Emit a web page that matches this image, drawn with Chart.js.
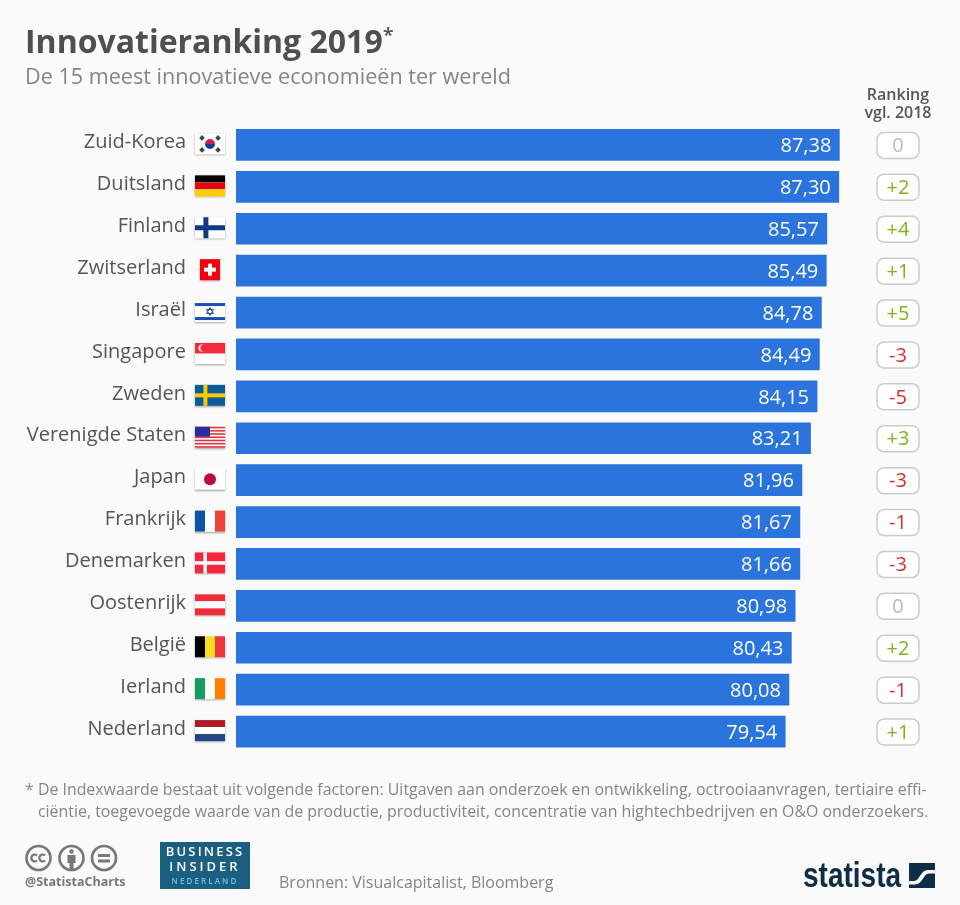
<!DOCTYPE html>
<html>
<head>
<meta charset="utf-8">
<script src="https://cdn.jsdelivr.net/npm/chart.js@4"></script>
<style>
  html, body { margin: 0; padding: 0; background: #fafafa; }
  body { width: 960px; height: 905px; position: relative; overflow: hidden; font-family: "Open Sans", sans-serif; }
  #chart { position: absolute; left: 0; top: 0; }
  .txt { position: absolute; white-space: nowrap; }
  #title { left: 25px; top: 18px; font-size: 32px; line-height: 45px; font-weight: 700; color: #4f4f4f; }
  #title sup { font-size: 20px; font-weight: 600; line-height: 0; vertical-align: 11px; }
  #subtitle { left: 25px; top: 61px; font-size: 21.6px; line-height: 30px; color: #858585; }
  #rankhead { left: 848px; width: 100px; top: 85px; text-align: center; font-size: 16px; line-height: 18px; font-weight: 600; color: #555; }
  #note { left: 25px; top: 779px; font-size: 15.9px; line-height: 21.5px; color: #858585; }
  #note span { display: inline-block; width: 13px; }
  #handle { left: 25px; top: 874px; font-size: 12.5px; line-height: 16px; font-weight: 700; color: #777; }
  #source { left: 279px; top: 871px; font-size: 16px; line-height: 22px; color: #858585; }
  #bi { left: 160px; top: 842px; width: 90px; height: 47px; background: #1a5f80; color: #fff; text-align: center; font-weight: 600; }
  #bi div { font-size: 13px; line-height: 15px; letter-spacing: 2.2px; }
  #bi .ins { letter-spacing: 3px; }
  #bi .nl { font-size: 8px; line-height: 13px; letter-spacing: 2.1px; color: #6cc0e4; }
  #statista { left: 803px; top: 853px; font-family: "Liberation Sans Narrow", "Liberation Sans", sans-serif; font-size: 35px; line-height: 44px; font-weight: 700; color: #0f2d44; transform: scaleX(0.8); transform-origin: left center; }
  #cc, #statlogo { position: absolute; }
</style>
</head>
<body>
<canvas id="chart" width="960" height="905"></canvas>
<div class="txt" id="title">Innovatieranking 2019<sup>*</sup></div>
<div class="txt" id="subtitle">De 15 meest innovatieve economieën ter wereld</div>
<div class="txt" id="rankhead">Ranking<br>vgl. 2018</div>
<div class="txt" id="note">* De Indexwaarde bestaat uit volgende factoren: Uitgaven aan onderzoek en ontwikkeling, octrooiaanvragen, tertiaire effi-<br><span></span>ciëntie, toegevoegde waarde van de productie, productiviteit, concentratie van hightechbedrijven en O&amp;O onderzoekers.</div>
<svg id="cc" style="left:25px;top:844px" width="94" height="28" viewBox="0 0 94 28" fill="none" stroke="#777" stroke-width="2.6">
  <circle cx="13.5" cy="14" r="12"/><circle cx="46.5" cy="14" r="12"/><circle cx="79" cy="14" r="12"/>
  <path d="M12 11.5a3.4 3.4 0 1 0 0 5M20 11.5a3.4 3.4 0 1 0 0 5" stroke-width="2.2"/>
  <circle cx="46.5" cy="7.5" r="2.2" fill="#777" stroke="none"/>
  <path d="M42.5 11h8v8h-2v6h-4v-6h-2z" fill="#777" stroke="none"/>
  <path d="M73 11.5h12M73 17h12" stroke-width="3"/>
</svg>
<div class="txt" id="handle">@StatistaCharts</div>
<div class="txt" id="bi"><div style="margin-top:2px">BUSINESS</div><div class="ins">INSIDER</div><div class="nl">NEDERLAND</div></div>
<div class="txt" id="source">Bronnen: Visualcapitalist, Bloomberg</div>
<div class="txt" id="statista">statista</div>
<svg id="statlogo" style="left:909px;top:863px" width="26" height="25" viewBox="0 0 26 25">
  <rect width="26" height="25" fill="#0f2d44"/>
  <path d="M0 18H5C11 18 11 7 19 7H26V10.5H20C14 10.5 14 21.5 6 21.5H0Z" fill="#fafafa"/>
</svg>
<script>
const categories = ['Zuid-Korea', 'Duitsland', 'Finland', 'Zwitserland', 'Israël', 'Singapore', 'Zweden', 'Verenigde Staten', 'Japan', 'Frankrijk', 'Denemarken', 'Oostenrijk', 'België', 'Ierland', 'Nederland'];
const indexValues = [87.38, 87.30, 85.57, 85.49, 84.78, 84.49, 84.15, 83.21, 81.96, 81.67, 81.66, 80.98, 80.43, 80.08, 79.54];
const rankChange = [0, 2, 4, 1, 5, -3, -5, 3, -3, -1, -3, 0, 2, -1, 1];
const flagCodes = ['kr', 'de', 'fi', 'ch', 'il', 'sg', 'se', 'us', 'jp', 'fr', 'dk', 'at', 'be', 'ie', 'nl'];

const BLUE = '#2b74de';

function bands(ctx, x, y, w, h, colors, vertical) {
  colors.forEach((c, i) => {
    ctx.fillStyle = c;
    if (vertical) ctx.fillRect(x + w * i / colors.length, y, w / colors.length, h);
    else ctx.fillRect(x, y + h * i / colors.length, w, h / colors.length);
  });
}

function cross(ctx, x, y, w, h, bg, fg, t) {
  ctx.fillStyle = bg;
  ctx.fillRect(x, y, w, h);
  ctx.fillStyle = fg;
  ctx.fillRect(x + w * 0.28, y, t, h);
  ctx.fillRect(x, y + h / 2 - t / 2, w, t);
}

function drawFlag(ctx, code, x, y, w, h) {
  const cx = x + w / 2, cy = y + h / 2;
  ctx.save();
  ctx.shadowColor = 'rgba(0,0,0,0.35)';
  ctx.shadowBlur = 2;
  ctx.shadowOffsetY = 1;
  if (code === 'ch') {
    ctx.fillStyle = '#f5000f';
    ctx.fillRect(x + 5, y, 20, h);
  } else {
    ctx.fillStyle = '#fff';
    ctx.fillRect(x, y, w, h);
  }
  ctx.restore();
  if (code === 'kr') {
    ctx.fillStyle = '#c8254a';
    ctx.beginPath(); ctx.arc(cx, cy, 5, Math.PI, 0); ctx.fill();
    ctx.fillStyle = '#123f8c';
    ctx.beginPath(); ctx.arc(cx, cy, 5, 0, Math.PI); ctx.fill();
    ctx.fillStyle = '#444';
    [[-8, -6], [8, -6], [-8, 6], [8, 6]].forEach(p => {
      ctx.save();
      ctx.translate(cx + p[0], cy + p[1]);
      ctx.rotate(Math.PI / 4);
      ctx.fillRect(-2, -2, 4, 4);
      ctx.restore();
    });
  } else if (code === 'de') bands(ctx, x, y, w, h, ['#000', '#e30613', '#ffcc00']);
  else if (code === 'fi') cross(ctx, x, y, w, h, '#fff', '#0f3a82', 5);
  else if (code === 'ch') {
    ctx.fillStyle = '#fff';
    ctx.fillRect(cx - 6, cy - 2, 12, 4);
    ctx.fillRect(cx - 2, cy - 6, 4, 12);
  } else if (code === 'il') {
    ctx.fillStyle = '#1c4db0';
    ctx.fillRect(x, y + 2, w, 3);
    ctx.fillRect(x, y + h - 5, w, 3);
    ctx.strokeStyle = '#1c4db0';
    ctx.lineWidth = 1;
    for (const s of [1, -1]) {
      ctx.beginPath();
      ctx.moveTo(cx, cy - s * 4);
      ctx.lineTo(cx + 3.5, cy + s * 2);
      ctx.lineTo(cx - 3.5, cy + s * 2);
      ctx.closePath();
      ctx.stroke();
    }
  } else if (code === 'sg') {
    ctx.fillStyle = '#ef2b3d';
    ctx.fillRect(x, y, w, h / 2);
    ctx.fillStyle = '#fff';
    ctx.beginPath(); ctx.arc(x + 7, y + 5, 3.5, 0, Math.PI * 2); ctx.fill();
    ctx.fillStyle = '#ef2b3d';
    ctx.beginPath(); ctx.arc(x + 8.5, y + 5, 3.2, 0, Math.PI * 2); ctx.fill();
  } else if (code === 'se') cross(ctx, x, y, w, h, '#0a5a9c', '#fecb00', 4);
  else if (code === 'us') {
    for (let i = 0; i < 7; i++) {
      ctx.fillStyle = '#e4343f';
      ctx.fillRect(x, y + i * h / 6.5, w, h / 13);
    }
    ctx.fillStyle = '#2b2f9e';
    ctx.fillRect(x, y, 15, 10);
  } else if (code === 'jp') {
    ctx.fillStyle = '#bc0a3a';
    ctx.beginPath(); ctx.arc(cx, cy, 6, 0, Math.PI * 2); ctx.fill();
  } else if (code === 'fr') bands(ctx, x, y, w, h, ['#0b55a5', '#fff', '#ef4135'], true);
  else if (code === 'dk') cross(ctx, x, y, w, h, '#f4263c', '#fff', 3.5);
  else if (code === 'at') bands(ctx, x, y, w, h, ['#ee2c3c', '#fff', '#ee2c3c']);
  else if (code === 'be') bands(ctx, x, y, w, h, ['#000', '#fdda24', '#ef3340'], true);
  else if (code === 'ie') bands(ctx, x, y, w, h, ['#169b62', '#fff', '#ff7f00'], true);
  else if (code === 'nl') bands(ctx, x, y, w, h, ['#ae1c28', '#fff', '#21468b']);
}

const overlays = {
  id: 'overlays',
  afterDatasetsDraw(chart) {
    const ctx = chart.ctx;
    const meta = chart.getDatasetMeta(0);
    ctx.save();
    meta.data.forEach((bar, i) => {
      // value inside the bar
      ctx.font = '20px "Open Sans"';
      ctx.textAlign = 'right';
      ctx.textBaseline = 'middle';
      ctx.fillStyle = '#fff';
      ctx.fillText(indexValues[i].toFixed(2).replace('.', ','), bar.x - 8, bar.y + 1.5);

      drawFlag(ctx, flagCodes[i], 195, bar.y - 11.5, 30, 21);

      // ranking badge
      ctx.beginPath();
      ctx.roundRect(877, bar.y - 12.5, 42, 26, 7);
      ctx.fillStyle = '#fff';
      ctx.fill();
      ctx.lineWidth = 1.5;
      ctx.strokeStyle = '#ccc';
      ctx.stroke();
      const r = rankChange[i];
      ctx.fillStyle = r > 0 ? '#7ab51d' : r < 0 ? '#d6322c' : '#bbb';
      ctx.textAlign = 'center';
      ctx.fillText(r > 0 ? '+' + r : String(r), 898, bar.y + 1.5);
    });
    ctx.restore();
  }
};

new Chart(document.getElementById('chart').getContext('2d'), {
  type: 'bar',
  data: {
    labels: categories,
    datasets: [{
      data: indexValues,
      backgroundColor: BLUE,
      barThickness: 31
    }]
  },
  options: {
    indexAxis: 'y',
    responsive: false,
    animation: false,
    layout: { padding: { top: 124, bottom: 152.5, right: 33.5, left: 0 } },
    plugins: { legend: { display: false }, tooltip: { enabled: false } },
    scales: {
      x: { display: false, min: 0, max: 100 },
      y: {
        afterFit(axis) { axis.width = 236; },
        grid: { display: false },
        border: { display: false },
        ticks: {
          padding: 42,
          labelOffset: -2.5,
          autoSkip: false,
          color: '#555',
          font: { family: '"Open Sans"', size: 20 }
        }
      }
    }
  },
  plugins: [overlays]
});
</script>
</body>
</html>
